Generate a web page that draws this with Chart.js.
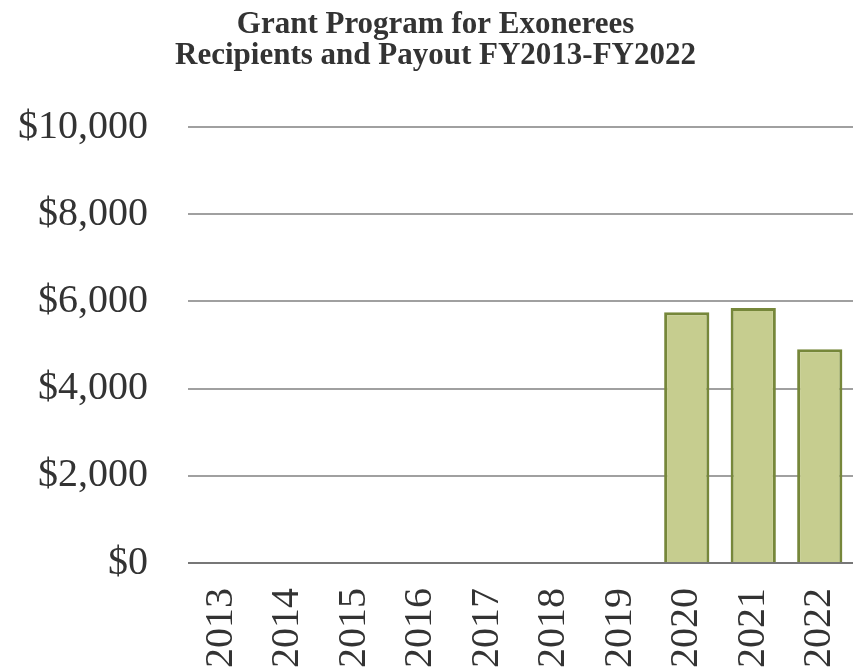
<!DOCTYPE html>
<html>
<head>
<meta charset="utf-8">
<script src="https://cdn.jsdelivr.net/npm/chart.js@4/dist/chart.umd.min.js"></script>
<style>
  html, body { margin: 0; padding: 0; background: #fff; }
  #wrap { width: 854px; height: 668px; }
</style>
</head>
<body>
<div id="wrap"><canvas id="mycanvas_grant"></canvas></div>
<script>
// fiscal years and payout values
var years = ['2013', '2014', '2015', '2016', '2017', '2018', '2019', '2020', '2021', '2022'];
var payout = [0, 0, 0, 0, 0, 0, 0, 5750, 5850, 4900];
var yTicks = [0, 2000, 4000, 6000, 8000, 10000];
var titleLines = ['Grant Program for Exonerees', 'Recipients and Payout FY2013-FY2022'];

var serif = "'Liberation Serif', 'Times New Roman', serif";

var chartdata = {
	labels: years,
	datasets: [
		{
			label: 'Payout',
			backgroundColor: '#c6cd8f',
			borderColor: '#76873a',
			borderWidth: 3,
			borderSkipped: 'bottom',
			categoryPercentage: 1.0,
			barPercentage: 0.68,
			data: payout
		}
	]
};

var ctx = document.getElementById('mycanvas_grant');

var barGraph = new Chart(ctx, {
	type: 'bar',
	data: chartdata,
	options: {
		responsive: true,
		maintainAspectRatio: false,
		animation: false,
		layout: { padding: { left: 18, right: 1, top: 0, bottom: 0 } },
		plugins: {
			legend: { display: false },
			tooltip: { enabled: false },
			title: {
				display: true,
				text: titleLines,
				color: '#333333',
				font: { family: serif, size: 31, weight: 'bold', lineHeight: 1.0 },
				padding: { top: 9, bottom: 56 }
			}
		},
		scales: {
			x: {
				grid: { display: false, drawTicks: false },
				border: { display: false },
				afterFit: function(axis) {
					axis.height = 105;
					axis.paddingLeft = 0;
					axis.paddingRight = 0;
				},
				ticks: {
					color: '#333333',
					font: { family: serif, size: 40 },
					maxRotation: 90,
					minRotation: 90,
					padding: 25,
					autoSkip: false
				}
			},
			y: {
				min: 0,
				max: 10000,
				afterBuildTicks: function(axis) {
					axis.ticks = yTicks.map(function(v) { return { value: v }; });
				},
				afterFit: function(axis) {
					axis.width = 170;
				},
				grid: {
					color: function(c) { return c.tick && c.tick.value === 0 ? '#777777' : '#a0a0a0'; },
					lineWidth: 2,
					drawTicks: false
				},
				border: { display: false },
				ticks: {
					color: '#333333',
					font: { family: serif, size: 40 },
					padding: 40,
					callback: function(v) { return '$' + Number(v).toLocaleString('en-US'); }
				}
			}
		}
	}
});
</script>
</body>
</html>
